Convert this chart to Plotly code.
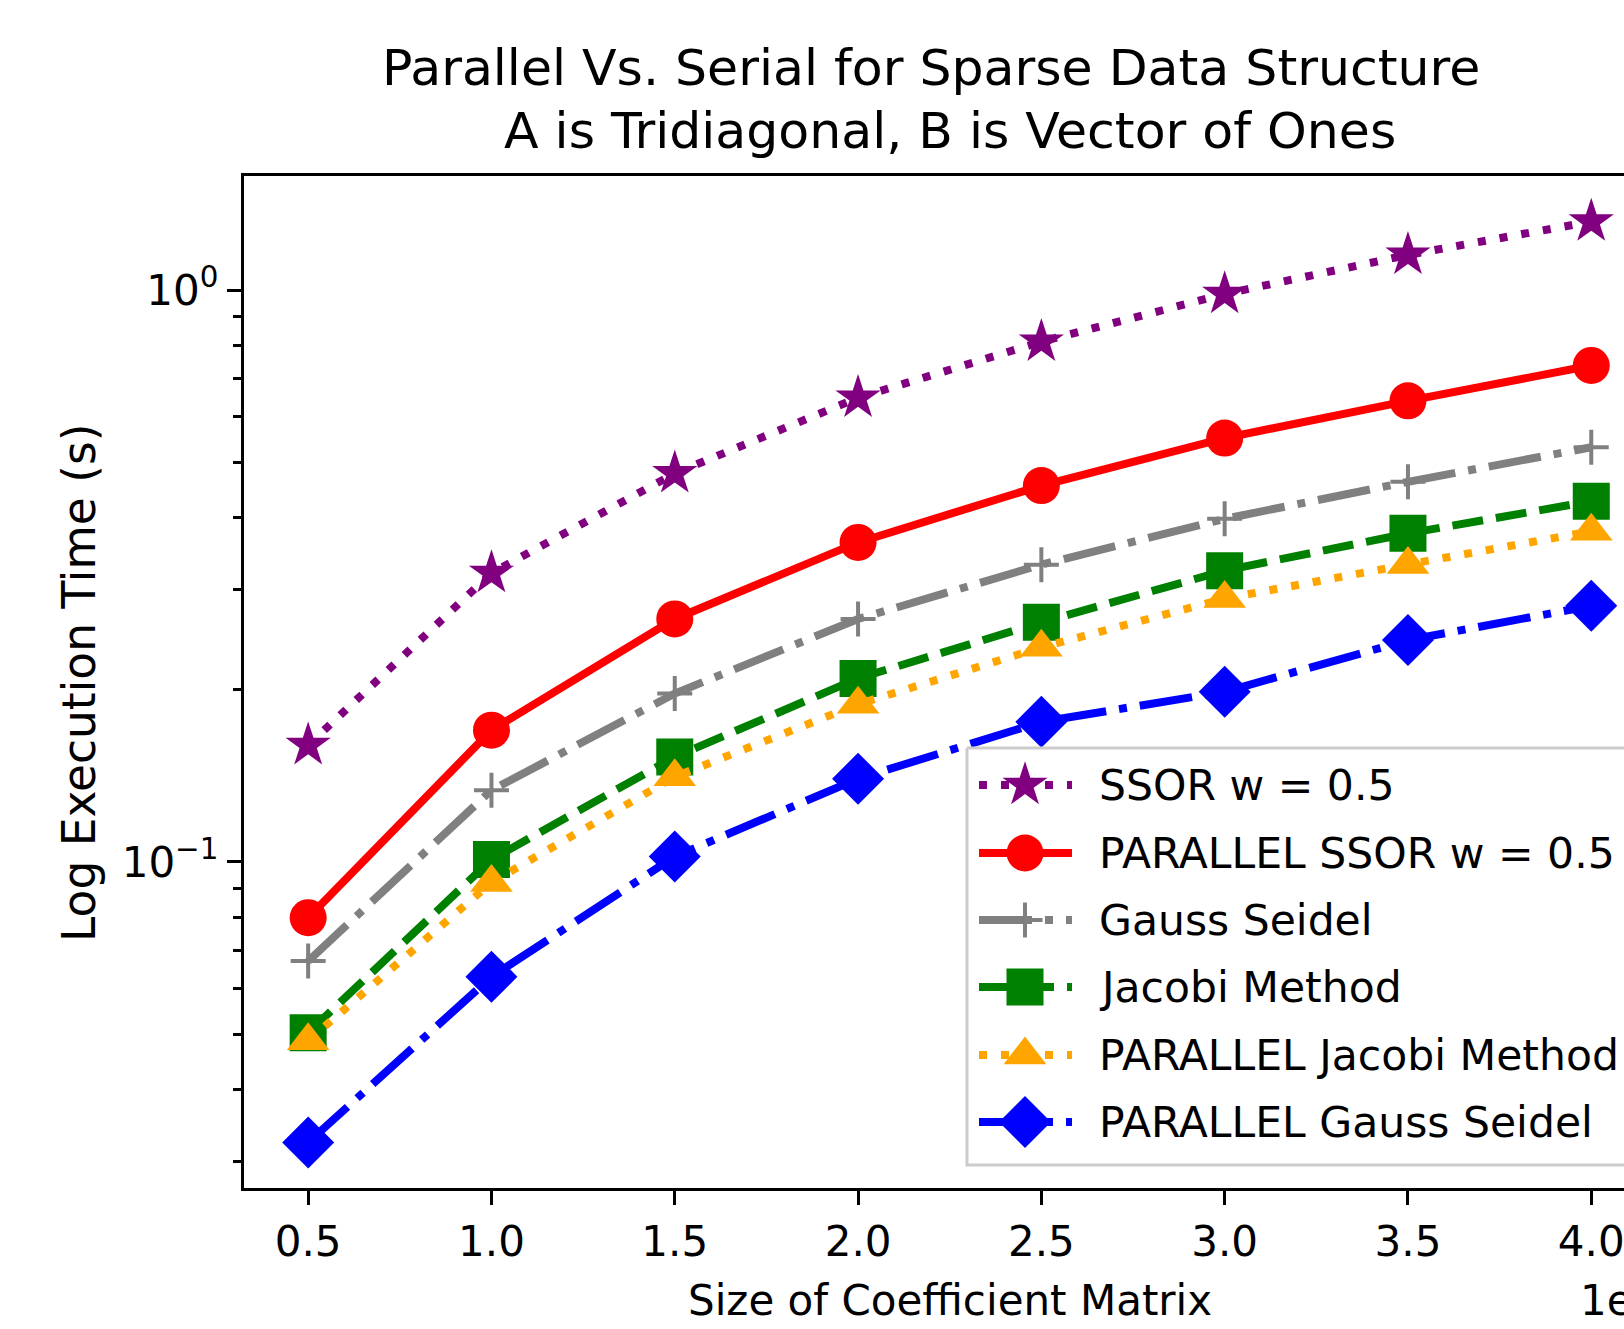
import plotly.graph_objects as go

sizes = [0.5, 1.0, 1.5, 2.0, 2.5, 3.0, 3.5, 4.0]
ssor = [0.160, 0.320, 0.478, 0.648, 0.812, 0.984, 1.152, 1.317]
par_ssor = [0.0799, 0.170, 0.266, 0.362, 0.455, 0.551, 0.640, 0.738]
gauss = [0.0671, 0.1335, 0.197, 0.266, 0.331, 0.398, 0.462, 0.531]
jacobi = [0.0503, 0.101, 0.1526, 0.2094, 0.2624, 0.3231, 0.3754, 0.4272]
par_jacobi = [0.0487, 0.0921, 0.1409, 0.1887, 0.2373, 0.2887, 0.3313, 0.3786]
par_gauss = [0.03234, 0.063, 0.1022, 0.1398, 0.1758, 0.1984, 0.2443, 0.2804]

names = ["SSOR w = 0.5", "PARALLEL SSOR w = 0.5", "Gauss Seidel", "Jacobi Method",
         "PARALLEL Jacobi Method", "PARALLEL Gauss Seidel"]
y_tick_vals = [0.1, 1.0]
y_tick_text = ["10<sup>\u22121</sup>", "10<sup>0</sup>"]
y_minor_vals = [0.03, 0.04, 0.05, 0.06, 0.07, 0.08, 0.09, 0.2, 0.3, 0.4, 0.5, 0.6, 0.7, 0.8, 0.9]
x_tick_vals = [0.5, 1.0, 1.5, 2.0, 2.5, 3.0, 3.5, 4.0]

W, H = 1624, 1329
L, T, B = 244, 176, 141
PW, PH = W - L, H - T - B
lw = 8
DOT = "8px,14px"
DASH = "31px,13px"
DASHDOT = "53px,13px,8px,13px"


def px_x(px):
    return (px - L) / PW


def px_y(py):
    return (H - B - py) / PH


series = [
    (ssor, "purple", DOT, dict(symbol="star", size=34)),
    (par_ssor, "red", "solid", dict(symbol="circle", size=37)),
    (gauss, "gray", DASHDOT, dict(symbol="cross-thin", size=25, line=dict(width=4, color="gray"))),
    (jacobi, "green", DASH, dict(symbol="square", size=37)),
    (par_jacobi, "orange", DOT, dict(symbol="triangle-up", size=37)),
    (par_gauss, "blue", DASHDOT, dict(symbol="diamond", size=40)),
]

font = "DejaVu Sans, Verdana, sans-serif"

fig = go.Figure()
for i, (vals, col, dash, mk) in enumerate(series):
    mk = dict(mk)
    mk.setdefault("color", col)
    fig.add_trace(go.Scatter(
        x=sizes, y=vals, name=names[i], mode="lines+markers",
        line=dict(color=col, width=lw, dash=dash),
        marker=mk, showlegend=False,
    ))

# ---- matplotlib-style legend drawn on a pixel-space overlay axis ----
leg_left, leg_top, leg_bottom, leg_right = 967, 748, 1165, 1700
fig.add_trace(go.Scatter(
    x=[leg_left, leg_right, leg_right, leg_left, leg_left],
    y=[leg_top, leg_top, leg_bottom, leg_bottom, leg_top],
    xaxis="x2", yaxis="y2", mode="lines", fill="toself",
    fillcolor="rgba(255,255,255,0.8)", line=dict(color="#cccccc", width=3),
    showlegend=False, hoverinfo="skip",
))
row_y = [785, 853, 920, 987, 1055, 1122]
h_x0, h_x1, h_xm, txt_x = 979, 1072, 1025, 1097
annotations = []
for i, (vals, col, dash, mk) in enumerate(series):
    mk = dict(mk)
    mk.setdefault("color", col)
    fig.add_trace(go.Scatter(
        x=[h_x0, h_x1], y=[row_y[i], row_y[i]], xaxis="x2", yaxis="y2",
        mode="lines", line=dict(color=col, width=lw, dash=dash),
        showlegend=False, hoverinfo="skip",
    ))
    fig.add_trace(go.Scatter(
        x=[h_xm], y=[row_y[i]], xaxis="x2", yaxis="y2",
        mode="markers", marker=mk, showlegend=False, hoverinfo="skip",
    ))
    annotations.append(dict(text=names[i], xref="paper", yref="paper", x=px_x(txt_x), y=px_y(row_y[i]),
                            xanchor="left", yanchor="middle", showarrow=False,
                            font=dict(size=42.5, family=font, color="black")))

annotations += [
    dict(text="Parallel Vs. Serial for Sparse Data Structure", xref="paper", yref="paper",
         x=px_x(931), y=px_y(68), xanchor="center", yanchor="middle", showarrow=False,
         font=dict(size=50.5, family=font, color="black")),
    dict(text="A is Tridiagonal, B is Vector of Ones", xref="paper", yref="paper",
         x=px_x(949.5), y=px_y(131), xanchor="center", yanchor="middle", showarrow=False,
         font=dict(size=50.5, family=font, color="black")),
    dict(text="Log Execution Time (s)", xref="paper", yref="paper",
         x=px_x(79), y=px_y(683), textangle=-90, showarrow=False,
         xanchor="center", yanchor="middle", font=dict(size=45.5, family=font, color="black")),
    dict(text="Size of Coefficient Matrix", xref="paper", yref="paper",
         x=px_x(949.5), y=px_y(1300), showarrow=False,
         xanchor="center", yanchor="middle", font=dict(size=42, family=font, color="black")),
    dict(text="1e6", xref="paper", yref="paper",
         x=px_x(1578), y=px_y(1300), showarrow=False,
         xanchor="left", yanchor="middle", font=dict(size=42, family=font, color="black")),
]

xr0 = 0.325
xr1 = 0.325 + PW / (183.3 * 2)

fig.update_layout(
    width=W, height=H,
    margin=dict(l=L, r=0, t=T, b=B, autoexpand=False),
    paper_bgcolor="white", plot_bgcolor="white",
    font=dict(family=font, size=42, color="black"),
    showlegend=False,
    annotations=annotations,
    xaxis2=dict(overlaying="x", range=[L, W], visible=False, domain=[0, 1]),
    yaxis2=dict(overlaying="y", range=[H - B, T], visible=False, domain=[0, 1]),
)
fig.layout.xaxis.update(
    range=[xr0, xr1], tickvals=x_tick_vals, tickformat=".1f",
    showgrid=False, zeroline=False, showline=True, linecolor="black", linewidth=3.3,
    mirror=True, ticks="outside", ticklen=14, tickwidth=3.3, tickcolor="black",
    tickfont=dict(size=42, family=font), ticklabeloverflow="allow",
)
fig.layout.yaxis.update(
    type="log", range=[-1.570, 0.1993], tickvals=y_tick_vals, ticktext=y_tick_text,
    showgrid=False, zeroline=False, showline=True, linecolor="black", linewidth=3.3,
    mirror=False, ticks="outside", ticklen=14, tickwidth=3.3, tickcolor="black",
    tickfont=dict(size=42, family=font),
    minor=dict(tickvals=y_minor_vals, ticks="outside", ticklen=8, tickwidth=2.5,
               tickcolor="black", showgrid=False),
)

fig.write_html("out.html")
